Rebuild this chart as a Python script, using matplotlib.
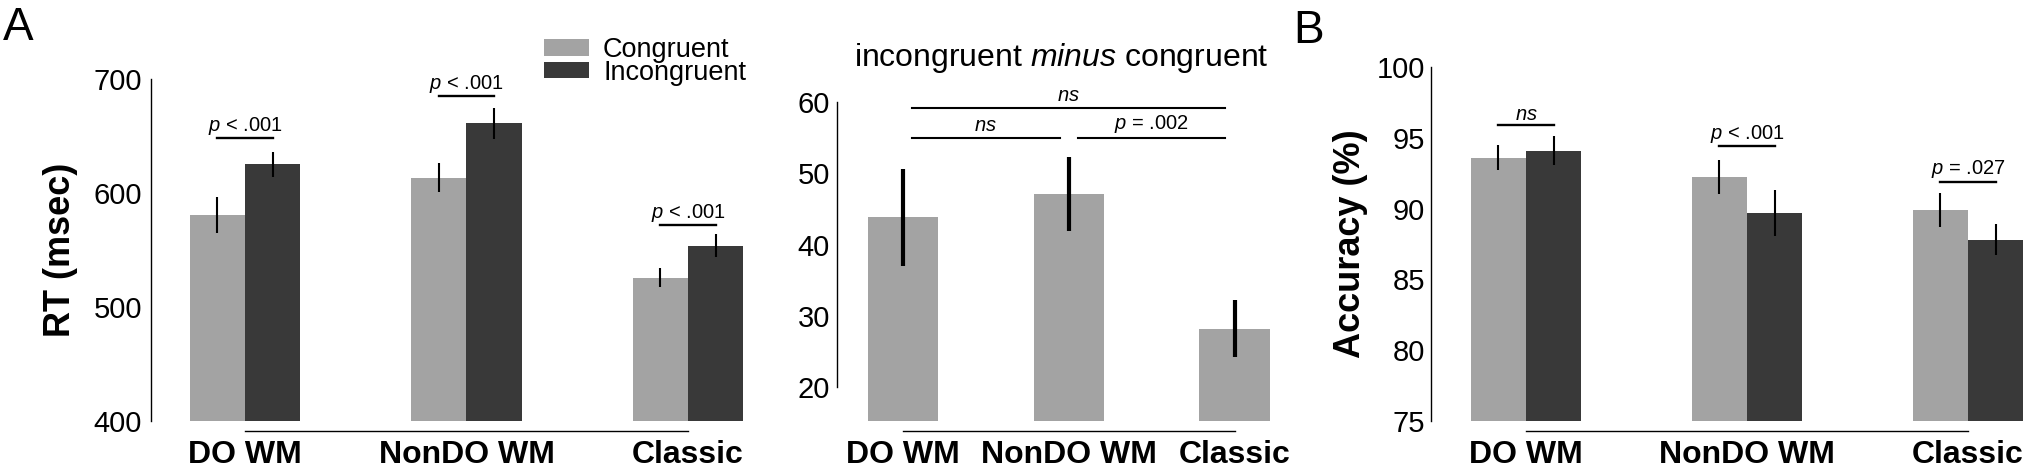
import numpy as np
import matplotlib
matplotlib.use("Agg")
import matplotlib.pyplot as plt

plt.rcParams['font.family'] = 'Liberation Sans'
plt.rcParams['mathtext.fontset'] = 'custom'
plt.rcParams['mathtext.rm'] = 'Liberation Sans'
plt.rcParams['mathtext.it'] = 'Liberation Sans:italic'

groups = ['DO WM', 'NonDO WM', 'Classic']

# RT (msec)
rt_cong = [580.7, 613.5, 525.5]
rt_cong_err = [15.8, 12.7, 8.3]
rt_incong = [625.0, 661.0, 553.8]
rt_incong_err = [11.4, 13.6, 10.0]
rt_sig = ['p < .001', 'p < .001', 'p < .001']
rt_sig_y = [648, 685, 572]

# incongruent minus congruent
diff = [43.8, 47.1, 28.2]
diff_err = [6.8, 5.25, 4.0]
diff_sig = [(0, 2, 59.2, 'ns'), (0, 1, 55.0, 'ns'), (1, 2, 55.0, 'p = .002')]

# Accuracy (%)
acc_cong = [93.6, 92.2, 89.9]
acc_cong_err = [0.9, 1.2, 1.2]
acc_incong = [94.1, 89.7, 87.8]
acc_incong_err = [1.0, 1.6, 1.1]
acc_sig = ['ns', 'p < .001', 'p = .027']
acc_sig_y = [95.9, 94.4, 91.9]

light = '#a3a3a3'
dark = '#393939'

W, H = 2029, 469
fig = plt.figure(figsize=(W / 100, H / 100), dpi=100)


def px_axes(left, top, right, bottom):
    return fig.add_axes([left / W, 1 - bottom / H, (right - left) / W, (bottom - top) / H])


def fmt(label):
    # italic p / ns like the original
    if label == 'ns':
        return r'$\mathit{ns}$'
    return label.replace('p', r'$\mathit{p}$', 1)


def style(ax, ybounds, ypad):
    for s in ['top', 'right']:
        ax.spines[s].set_visible(False)
    ax.spines['left'].set_bounds(*ybounds)
    ax.spines['bottom'].set_position(('outward', 7.5))
    ax.spines['bottom'].set_bounds(0, 2)
    for s in ['left', 'bottom']:
        ax.spines[s].set_linewidth(1.0)
    ax.tick_params(axis='y', length=0, labelsize=21, pad=ypad)
    ax.tick_params(axis='x', length=0, labelsize=23, pad=6)
    ax.set_xticks(range(len(groups)))
    ax.set_xticklabels(groups, fontweight='bold')


def paired(ax, cong, cong_err, incong, incong_err, sig, sig_y):
    x = np.arange(len(groups))
    w = 0.25
    b1 = ax.bar(x - w / 2, cong, w, color=light, label='Congruent')
    b2 = ax.bar(x + w / 2, incong, w, color=dark, label='Incongruent')
    ax.errorbar(x - w / 2, cong, yerr=cong_err, fmt='none', ecolor='black', elinewidth=1.5, capsize=0)
    ax.errorbar(x + w / 2, incong, yerr=incong_err, fmt='none', ecolor='black', elinewidth=1.5, capsize=0)
    for xi, lab, yy in zip(x, sig, sig_y):
        ax.plot([xi - w / 2, xi + w / 2], [yy, yy], color='black', lw=1.7, clip_on=False)
        ax.annotate(fmt(lab), (xi, yy), xytext=(0, 1), textcoords='offset points',
                    ha='center', va='bottom', fontsize=14.5, annotation_clip=False)
    return b1, b2


# Panel A, left: RT
ax1 = px_axes(151, 79, 746, 421)
b1, b2 = paired(ax1, rt_cong, rt_cong_err, rt_incong, rt_incong_err, rt_sig, rt_sig_y)
ax1.set_xlim(-0.424, 2.262)
ax1.set_ylim(400, 700)
ax1.set_yticks([400, 500, 600, 700])
style(ax1, (400, 700), 6.5)
ax1.set_ylabel('RT (msec)', fontsize=26, fontweight='bold', va='center')
ax1.yaxis.set_label_coords((60 - 151) / 595, 0.5)
ax1.legend(handles=[b1, b2], loc='upper left', bbox_to_anchor=(544 / W, 1 - 37 / H),
           bbox_transform=fig.transFigure, frameon=False, fontsize=19.5,
           handlelength=1.66, handleheight=0.55, handletextpad=0.52,
           labelspacing=-0.12, borderpad=0, borderaxespad=0)

# Panel A, right: difference
ax2 = px_axes(837, 102, 1271, 421)
x = np.arange(len(groups))
ax2.bar(x, diff, 0.425, color=light)
ax2.errorbar(x, diff, yerr=diff_err, fmt='none', ecolor='black', elinewidth=3, capsize=0)
ax2.set_xlim(-0.398, 2.22)
ax2.set_ylim(15.23, 60)
ax2.set_yticks([20, 30, 40, 50, 60])
style(ax2, (20, 60), 5)
inset = 0.055
for i, j, yy, lab in diff_sig:
    ax2.plot([i + inset, j - inset], [yy, yy], color='black', lw=1.5, clip_on=False)
    ax2.annotate(fmt(lab), ((i + j) / 2, yy), xytext=(0, 2), textcoords='offset points',
                 ha='center', va='bottom', fontsize=14.5, annotation_clip=False)
ax2.set_title(r'incongruent $\mathit{minus}$ congruent', fontsize=23, x=0.516, pad=26)

# Panel B: accuracy
ax3 = px_axes(1431, 67, 2029, 421)
paired(ax3, acc_cong, acc_cong_err, acc_incong, acc_incong_err, acc_sig, acc_sig_y)
ax3.set_xlim(-0.43, 2.276)
ax3.set_ylim(75, 100)
ax3.set_yticks([75, 80, 85, 90, 95, 100])
style(ax3, (75, 100), 4.5)
ax3.set_ylabel('Accuracy (%)', fontsize=26, fontweight='bold', va='center')
ax3.yaxis.set_label_coords((1351 - 1431) / 598, 0.5)

fig.text(3 / W, 1 - 6 / H, 'A', fontsize=33, ha='left', va='top')
fig.text(1293 / W, 1 - 9 / H, 'B', fontsize=33, ha='left', va='top')

fig.savefig('out.png', dpi=100)
